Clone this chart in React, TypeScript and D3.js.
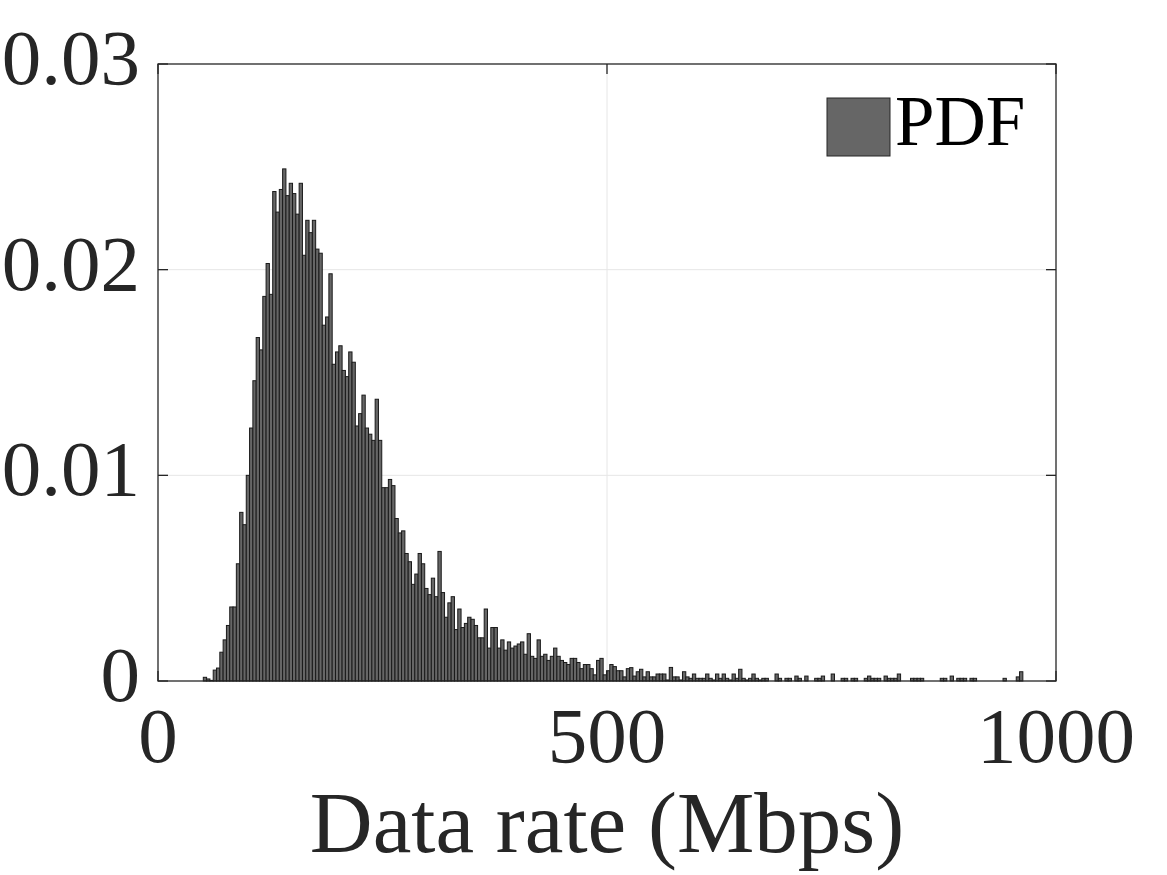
import React from "react";
import * as d3 from "d3";

// Histogram (PDF) of data rate, bins
const binStart = 50.45; // Mbps, left edge of the first bin
const binWidth = 3.68; // Mbps
const pdfValues: number[] = [
  0.00018, 0.0001, 0.00003, 0.00053, 0.00063, 0.0014, 0.002, 0.0027, 0.0036, 0.0036,
  0.0057, 0.0082, 0.0076, 0.01, 0.0123, 0.0146, 0.0167, 0.0161, 0.0187, 0.0203,
  0.0188, 0.0238, 0.0228, 0.0239, 0.0249, 0.0236, 0.0242, 0.0237, 0.0227, 0.0242,
  0.0207, 0.0224, 0.0218, 0.0224, 0.021, 0.0208, 0.0173, 0.0177, 0.0198, 0.0154,
  0.016, 0.0163, 0.0151, 0.0148, 0.016, 0.0155, 0.0124, 0.013, 0.0139, 0.0123,
  0.012, 0.0117, 0.0137, 0.0117, 0.0094, 0.0094, 0.0098, 0.0095, 0.0079, 0.0072,
  0.0073, 0.0062, 0.0058, 0.0047, 0.0052, 0.0062, 0.0057, 0.0045, 0.0042, 0.005,
  0.0041, 0.0063, 0.0043, 0.0031, 0.0038, 0.0041, 0.0025, 0.0035, 0.0026, 0.0028,
  0.0031, 0.003, 0.0027, 0.0021, 0.0021, 0.0035, 0.0016, 0.0026, 0.0026, 0.0016,
  0.002, 0.0015, 0.0019, 0.0016, 0.0017, 0.0018, 0.0019, 0.0013, 0.0023, 0.0012,
  0.0011, 0.002, 0.0012, 0.0013, 0.001, 0.0012, 0.0016, 0.0012, 0.001, 0.0009,
  0.0008, 0.0011, 0.0011, 0.0009, 0.0006, 0.0008, 0.0008, 0.0006, 0.0003, 0.001,
  0.0011, 0.0003, 0.0005, 0.0008, 0.0007, 0.0005, 0.0005, 0.0002, 0.0006, 0.00065,
  0.00024, 0.00045, 0.00057, 0.0002, 0.00045, 0.0002, 0.0002, 0.00034, 0.00034, 0.00034,
  0.00005, 0.00066, 0.0002, 0.0002, 0.00005, 0.00045, 0.0002, 0.00013, 0.00034, 0.00013,
  0.00013, 0.00013, 0.00034, 0.00013, 0.00005, 0.00034, 0.00013, 0.00034, 0.00013, 0.00005,
  0.00034, 0.00013, 0.00057, 0.00013, 0.00005, 0.00013, 0.00034, 0.00013, 0.00005,
  // 169..207
  0.00013, 0.00013, 0, 0, 0.00034, 0.00013, 0, 0.00013, 0.00013, 0,
  0.00024, 0.00013, 0, 0.00024, 0, 0, 0.00013, 0.00013, 0.00024, 0,
  0, 0.00034, 0, 0, 0.00013, 0.00013, 0, 0.00013, 0.00013, 0,
  0, 0.00013, 0.00024, 0.00013, 0.00013, 0.00013, 0, 0.00024, 0.00013,
  // 208..247
  0.00013, 0.00013, 0.00034, 0, 0, 0, 0.00013, 0.00013, 0.00013, 0.00013,
  0, 0, 0, 0, 0, 0.00013, 0.00013, 0, 0.00024, 0,
  0.00013, 0.00013, 0.00013, 0, 0.00013, 0.00013, 0, 0, 0, 0,
  0, 0, 0, 0, 0.00013, 0, 0, 0, 0.0002, 0.00045,
];

const xTicks = [0, 500, 1000];
const yTicks = [0, 0.01, 0.02, 0.03];
const yTickLabels = ["0", "0.01", "0.02", "0.03"];
const xLabel = "Data rate (Mbps)";
const legendLabel = "PDF";

const W = 1167;
const H = 875;
const FONT = "'Liberation Serif', 'Times New Roman', Times, serif";
const AX = "#262626";

export default function App() {
  const x = d3.scaleLinear().domain([0, 1000]).range([158, 1056]);
  const y = d3.scaleLinear().domain([0, 0.03]).range([681, 64]);
  const bins = pdfValues.map((v, i) => ({
    x0: binStart + i * binWidth,
    x1: binStart + (i + 1) * binWidth,
    v,
  }));
  const [xl, xr] = x.range();
  const [yb, yt] = y.range();
  const tick = 10;

  return (
    <svg
      width={W}
      height={H}
      style={{ position: "absolute", left: 0, top: 0, background: "#fff" }}
      fontFamily={FONT}
    >
      {/* grid */}
      {xTicks
        .filter((t) => t !== 0 && t !== 1000)
        .map((t) => (
          <line key={"gx" + t} x1={x(t)} x2={x(t)} y1={yb} y2={yt} stroke="#e6e6e6" strokeWidth={1} />
        ))}
      {yTicks
        .filter((t) => t !== 0 && t !== 0.03)
        .map((t) => (
          <line key={"gy" + t} x1={xl} x2={xr} y1={y(t)} y2={y(t)} stroke="#e6e6e6" strokeWidth={1} />
        ))}

      {/* bars */}
      {bins.map((b, i) => (
        <rect
          key={i}
          x={x(b.x0)}
          y={y(b.v)}
          width={x(b.x1) - x(b.x0)}
          height={y(0) - y(b.v)}
          fill="#666666"
          stroke="#1a1a1a"
          strokeWidth={1}
        />
      ))}

      {/* box */}
      <rect x={xl} y={yt} width={xr - xl} height={yb - yt} fill="none" stroke={AX} strokeWidth={1.3} />

      {/* ticks */}
      {xTicks.map((t) => (
        <g key={"tx" + t}>
          <line x1={x(t)} x2={x(t)} y1={yb} y2={yb - tick} stroke={AX} strokeWidth={1.3} />
          <line x1={x(t)} x2={x(t)} y1={yt} y2={yt + tick} stroke={AX} strokeWidth={1.3} />
          <text x={x(t)} y={762} textAnchor="middle" fontSize={79} fill={AX}>
            {t}
          </text>
        </g>
      ))}
      {yTicks.map((t, i) => (
        <g key={"ty" + t}>
          <line x1={xl} x2={xl + tick} y1={y(t)} y2={y(t)} stroke={AX} strokeWidth={1.3} />
          <line x1={xr} x2={xr - tick} y1={y(t)} y2={y(t)} stroke={AX} strokeWidth={1.3} />
          <text x={140} y={y(t) + 20} textAnchor="end" fontSize={79} fill={AX}>
            {yTickLabels[i]}
          </text>
        </g>
      ))}

      {/* x label */}
      <text x={(xl + xr) / 2} y={852} textAnchor="middle" fontSize={87} fill={AX}>
        {xLabel}
      </text>

      {/* legend */}
      <rect x={827} y={98} width={63} height={58} fill="#666666" stroke={AX} strokeWidth={1} />
      <text x={895} y={145} fontSize={71} fill="#000">
        {legendLabel}
      </text>
    </svg>
  );
}
